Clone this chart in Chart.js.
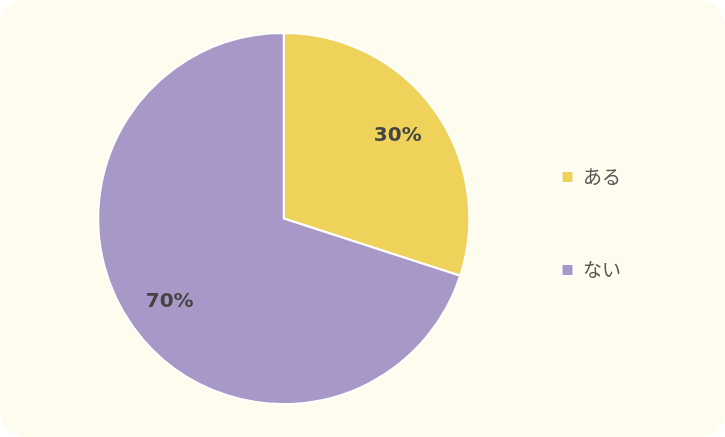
<!DOCTYPE html>
<html>
<head>
<meta charset="utf-8">
<script src="https://cdn.jsdelivr.net/npm/chart.js@4"></script>
<style>
    html, body { margin: 0; padding: 0; background: #ffffff; }
    #card {
        width: 725px;
        height: 437px;
        background: #fefcee;
        border-radius: 26px;
        overflow: hidden;
    }
</style>
</head>
<body>
<div id="card"><canvas id="chart" width="725" height="437"></canvas></div>
<script>
const categories = ["ある", "ない"];
const values = [30, 70];
const colors = ["#efd25a", "#a898c8"];

// draws the percentage inside each slice
const sliceLabels = {
    id: "sliceLabels",
    afterDatasetsDraw(chart) {
        const ctx = chart.ctx;
        const meta = chart.getDatasetMeta(0);
        const total = values.reduce((a, b) => a + b, 0);
        ctx.save();
        ctx.font = "bold 20px 'DejaVu Sans'";
        ctx.fillStyle = "#444444";
        ctx.textAlign = "center";
        ctx.textBaseline = "middle";
        meta.data.forEach((arc, i) => {
            const p = arc.getProps(["x", "y", "startAngle", "endAngle", "outerRadius"], true);
            const mid = (p.startAngle + p.endAngle) / 2;
            const r = p.outerRadius * 0.76;
            const pct = Math.round(values[i] / total * 100) + "%";
            ctx.fillText(pct, p.x + Math.cos(mid) * r, p.y + Math.sin(mid) * r);
        });
        ctx.restore();
    }
};

new Chart(document.getElementById("chart"), {
    type: "pie",
    data: {
        labels: categories,
        datasets: [{
            data: values,
            backgroundColor: colors,
            borderColor: "#ffffff",
            borderWidth: 2
        }]
    },
    options: {
        responsive: false,
        animation: false,
        layout: {
            padding: { top: 32, bottom: 32, left: 80, right: 94 }
        },
        plugins: {
            tooltip: { enabled: false },
            legend: {
                position: "right",
                title: {
                    display: true,
                    text: "",
                    padding: 0,
                    font: { size: 10, lineHeight: 1 }
                },
                labels: {
                    boxWidth: 12,
                    boxHeight: 12,
                    padding: 74,
                    color: "#555555",
                    font: { family: "'Noto Sans CJK JP'", size: 19 }
                }
            }
        }
    },
    plugins: [sliceLabels]
});
</script>
</body>
</html>
